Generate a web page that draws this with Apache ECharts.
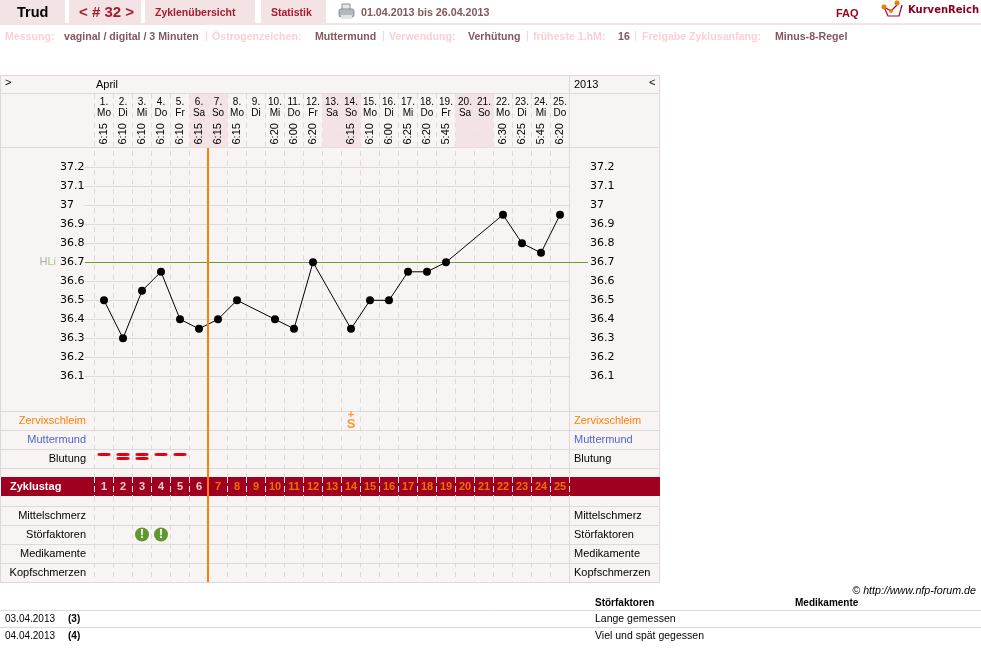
<!DOCTYPE html>
<html>
<head>
<meta charset="utf-8">
<title>Zyklusblatt</title>
<style>html,body{margin:0;padding:0;background:#fff}#chart{width:981px;height:662px}</style>
<script src="https://cdn.jsdelivr.net/npm/echarts@6/dist/echarts.min.js"></script>
</head>
<body>
<div id="chart"></div>
<script>
// Zyklusdaten
const days = [1,2,3,4,5,6,7,8,9,10,11,12,13,14,15,16,17,18,19,20,21,22,23,24,25];
const weekdays = ['Mo','Di','Mi','Do','Fr','Sa','So','Mo','Di','Mi','Do','Fr','Sa','So','Mo','Di','Mi','Do','Fr','Sa','So','Mo','Di','Mi','Do'];
const times = ['6:15','6:10','6:10','6:10','6:10','6:15','6:15','6:15','','6:20','6:00','6:20','','6:15','6:10','6:00','6:25','6:20','5:45','','','6:30','6:25','5:45','6:20'];
const temps = [36.5,36.3,36.55,36.65,36.4,36.35,36.4,36.5,null,36.4,36.35,36.7,null,36.35,36.5,36.5,36.65,36.65,36.7,null,null,36.95,36.8,36.75,36.95];
const coverLine = 36.7;
const ovulationAfterDay = 6;
const upperRows = ['Zervixschleim','Muttermund','Blutung'];
const lowerRows = ['Mittelschmerz','Störfaktoren','Medikamente','Kopfschmerzen'];
const bleeding = [1,2,2,1,1];
const mucusDay = 14;
const disturbanceDays = [3,4];
const metaPairs = [
  ['Messung:', 5, 'vaginal / digital / 3 Minuten', 64],
  ['Östrogenzeichen:', 212, 'Muttermund', 315],
  ['Verwendung:', 389, 'Verhütung', 468],
  ['früheste 1.hM:', 533, '16', 618],
  ['Freigabe Zyklusanfang:', 642, 'Minus-8-Regel', 775]
];
const metaSeparators = [205, 382, 526, 634];
const notes = [
  ['03.04.2013', '(3)', 'Lange gemessen'],
  ['04.04.2013', '(4)', 'Viel und spät gegessen']
];

// Farben und Maße des Blattes
const FONT = '"Liberation Sans", Arial, sans-serif';
const LINE = '#dcd9d9', PANEL = '#f9f4f4', SHADE = '#f3e3e5', WINE = '#a00020', ORANGE = '#ff8000';
const COL_LEFT = 94.5, COL_WIDTH = 475;
const dayIdx = d => d - 1;

function text(str, x, y, font, fill, align) {
  return { type: 'text', z: -1, silent: true,
    style: { text: str, x, y, font: font + ' ' + FONT, fill, align: align || 'left', verticalAlign: 'middle' } };
}
function rect(x, y, w, h, fill) {
  return { type: 'rect', z: -2, silent: true, shape: { x, y, width: w, height: h }, style: { fill } };
}
function hLine(y, x1, x2, color) {
  return { type: 'line', z: -1, silent: true, shape: { x1, y1: y, x2, y2: y }, style: { stroke: color || LINE, lineWidth: 1 } };
}
function vLine(x, y1, y2) {
  return { type: 'line', z: -1, silent: true, shape: { x1: x, y1, x2: x, y2 }, style: { stroke: LINE, lineWidth: 1 } };
}

const graphics = [
  // Kopfzeile
  rect(0, 0, 65, 23, SHADE), rect(69, 0, 72, 23, SHADE), rect(145, 0, 110, 23, SHADE), rect(261, 0, 65, 23, SHADE),
  rect(0, 23, 981, 2, SHADE),
  text('Trud', 17, 13, 'bold 14.5px', '#000'),
  text('< # 32 >', 79, 13, 'bold 15px', '#a51c30'),
  text('Zyklenübersicht', 155, 13, 'bold 10.5px', '#a51c30'),
  text('Statistik', 271, 13, 'bold 10.5px', '#a51c30'),
  text('01.04.2013 bis 26.04.2013', 361, 13, 'bold 10.7px', '#83585c'),
  text('FAQ', 836, 14, 'bold 11px', '#a00020'),
  text('KurvenReich', 908, 10, 'bold 10px "DejaVu Sans",', '#8b0020'),
  // Druckersymbol
  { type: 'rect', z: -1, shape: { x: 342, y: 4, width: 8, height: 6 }, style: { fill: '#e8e8e8', stroke: '#8a9096' } },
  { type: 'rect', z: -1, shape: { x: 339, y: 9, width: 15, height: 8, r: 2 }, style: { fill: '#b4b9be', stroke: '#8a9096' } },
  { type: 'rect', z: -1, shape: { x: 341, y: 15, width: 11, height: 4 }, style: { fill: '#e2e4e6' } },
  // Logo
  { type: 'polyline', z: -1, shape: { points: [[884, 7], [888, 16], [899, 16], [902, 5]] }, style: { stroke: '#a00040', lineWidth: 1.2, fill: 'none' } },
  { type: 'polyline', z: -1, shape: { points: [[884, 7], [891, 11], [899, 3]] }, style: { stroke: '#a00040', lineWidth: 1.2, fill: 'none' } },
  { type: 'circle', z: -1, shape: { cx: 884, cy: 7, r: 2.5 }, style: { fill: '#f08000' } },
  { type: 'circle', z: -1, shape: { cx: 891, cy: 11, r: 2 }, style: { fill: '#f08000' } },
  { type: 'circle', z: -1, shape: { cx: 897, cy: 3, r: 2.5 }, style: { fill: '#f08000' } },
  // Tafel
  rect(1, 75, 659, 508, PANEL),
  rect(1, 477, 659, 19, WINE),
  text('>', 5, 83, '11px', '#000'),
  text('April', 96, 85, '11px', '#000'),
  text('2013', 574, 85, '11px', '#000'),
  text('<', 649, 83, '11px', '#000'),
  // Fuß
  text('© http://www.nfp-forum.de', 976, 591, 'italic 10.7px', '#000', 'right'),
  text('Störfaktoren', 595, 603, 'bold 10px', '#000'),
  text('Medikamente', 795, 603, 'bold 10px', '#000'),
  hLine(610.5, 0, 981), hLine(627.5, 0, 981)
];
[75.5, 93.5, 147.5, 411.5, 430.5, 449.5, 468.5, 506.5, 525.5, 544.5, 563.5, 582.5].forEach(y => graphics.push(hLine(y, 0, 660)));
[0.5, 569.5, 659.5].forEach(x => { graphics.push(vLine(x, 75, 477), vLine(x, 496, 583)); });
metaPairs.forEach(([label, lx, value, vx]) => {
  graphics.push(text(label, lx, 37, 'bold 10.6px', '#fbd0d0'), text(value, vx, 37, 'bold 10.6px', '#83585c'));
});
metaSeparators.forEach(x => graphics.push(text('|', x, 36, '11px', '#fbd0d0')));
notes.forEach(([date, idx, note], i) => {
  const y = 619 + i * 17;
  graphics.push(text(date, 5, y, '10px', '#000'), text(idx, 68, y, 'bold 10px', '#000'), text(note, 595, y, '10.5px', '#000'));
});

// Zeilen und Spalten teilen sich dieselbe Spaltenbreite
const grid = (top, height, left) => ({ left: left === undefined ? COL_LEFT : left, width: COL_WIDTH, top, height, containLabel: false });
const hiddenY = gridIndex => ({ gridIndex, type: 'value', min: 0, max: 1, show: false });
const dashed = { show: true, interval: 0, lineStyle: { color: LINE, type: [5, 4.5], width: 1 } };
const plainX = (gridIndex, extra) => Object.assign({
  gridIndex, type: 'category', data: days, boundaryGap: true,
  axisLine: { show: false }, axisTick: { show: false }, axisLabel: { show: false }, splitLine: { show: false }
}, extra || {});

const rowAxes = (gridIndex, rows, colorOf) => {
  const labelStyle = (margin, align) => ({
    show: true, interval: 0, margin, align, fontFamily: FONT, fontSize: 11,
    color: (v) => colorOf(v)
  });
  const base = { gridIndex, type: 'category', data: rows, inverse: true,
    axisLine: { show: false }, axisTick: { show: false }, splitLine: { show: false } };
  return [
    Object.assign({}, base, { position: 'left', axisLabel: labelStyle(8.5, 'right') }),
    Object.assign({}, base, { position: 'right', axisLabel: labelStyle(4.5, 'left') })
  ];
};
const rowColor = v => v === 'Zervixschleim' ? ORANGE : v === 'Muttermund' ? '#4a66cc' : '#000';

const option = {
  animation: false,
  backgroundColor: '#fff',
  graphic: { elements: graphics },
  grid: [
    grid(167.3, 209),   // 0 Temperatur
    grid(94, 53.5),     // 1 Tagesköpfe
    grid(411, 57),      // 2 obere Zeilen
    grid(477, 19),      // 3 Zyklustag
    grid(506, 76),      // 4 untere Zeilen
    grid(94, 383),      // 5 Spaltenraster oben
    grid(496, 86),      // 6 Spaltenraster unten
    grid(148, 434, 94)  // 7 Überlagerung
  ],
  xAxis: [
    plainX(0),
    plainX(1, { position: 'top', z: 3, axisLabel: {
      show: true, inside: true, interval: 0, margin: 3, fontFamily: FONT, fontSize: 10, lineHeight: 10.5, color: '#000',
      verticalAlign: 'top', formatter: (v, i) => v + '.\n' + weekdays[i] } }),
    plainX(1, { position: 'bottom', z: 3, data: times, axisLabel: {
      show: true, inside: true, interval: 0, margin: 3, rotate: 90, fontFamily: FONT, fontSize: 11, color: '#000' } }),
    plainX(2),
    plainX(3, { splitLine: { show: true, interval: 0, lineStyle: { color: '#f4e6e6', type: [6, 3], width: 1 } } }),
    plainX(4),
    plainX(5, { splitLine: dashed }),
    plainX(6, { splitLine: dashed }),
    { gridIndex: 7, type: 'value', min: 0, max: days.length, show: false }
  ],
  yAxis: [
    { gridIndex: 0, type: 'value', min: 36.1, max: 37.2, interval: 0.1, position: 'left',
      axisLine: { show: false },
      axisTick: { show: true, length: 10, lineStyle: { color: LINE } },
      axisLabel: { margin: 34.5, align: 'left', fontFamily: '"DejaVu Sans"', fontSize: 11, color: '#000', showMinLabel: true, showMaxLabel: true },
      splitLine: { show: true, lineStyle: { color: LINE, width: 1 } } },
    { gridIndex: 0, type: 'value', min: 36.1, max: 37.2, interval: 0.1, position: 'right',
      axisLine: { show: false }, axisTick: { show: false }, splitLine: { show: false },
      axisLabel: { margin: 20.5, fontFamily: '"DejaVu Sans"', fontSize: 11, color: '#000' } },
    hiddenY(1),
    ...rowAxes(2, upperRows, rowColor),
    { gridIndex: 3, type: 'category', data: ['Zyklustag'], position: 'left',
      axisLine: { show: false }, axisTick: { show: false },
      axisLabel: { margin: 84.5, align: 'left', fontFamily: FONT, fontSize: 11, fontWeight: 'bold', color: '#fff' } },
    ...rowAxes(4, lowerRows, rowColor),
    hiddenY(5),
    hiddenY(6),
    hiddenY(7)
  ],
  series: [
    // Wochenenden in den Tagesköpfen
    { type: 'bar', xAxisIndex: 1, yAxisIndex: 2, barWidth: '100%', silent: true, z: 1,
      itemStyle: { color: SHADE },
      data: weekdays.map(w => (w === 'Sa' || w === 'So') ? 1 : null) },
    // Temperaturkurve mit Hilfslinie
    { type: 'line', name: 'Temperatur', xAxisIndex: 0, yAxisIndex: 0, data: temps, connectNulls: true, clip: false,
      symbol: 'circle', symbolSize: 8, showAllSymbol: true, z: 4,
      lineStyle: { color: '#000', width: 1 }, itemStyle: { color: '#000' },
      markLine: { silent: true, symbol: 'none', animation: false, z: 3,
        lineStyle: { color: '#6a9c2e', width: 1, type: 'solid' },
        label: { show: true, position: 'start', distance: 29, formatter: '{h|H}{l|Li}',
          rich: { h: { color: '#a9b3a4', fontSize: 11, fontFamily: FONT }, l: { color: '#a5c58a', fontSize: 11, fontFamily: FONT } } },
        data: [[{ x: 85, yAxis: coverLine }, { x: 588, yAxis: coverLine }]] } },
    // Zervixschleim
    { type: 'scatter', xAxisIndex: 3, yAxisIndex: 3, symbolSize: 1, itemStyle: { color: 'transparent' }, silent: true, z: 5,
      label: { show: true, position: 'inside', formatter: '{p|+}\n{s|S}',
        rich: { p: { color: ORANGE, fontFamily: FONT, fontWeight: 'bold', fontSize: 11, lineHeight: 7, align: 'center' },
                s: { color: ORANGE, fontFamily: FONT, fontWeight: 'bold', fontSize: 13, lineHeight: 11, align: 'center' } } },
      data: [[dayIdx(mucusDay), 'Zervixschleim']] },
    // Blutung: erster und zweiter Strich
    { type: 'scatter', xAxisIndex: 3, yAxisIndex: 3, symbol: 'roundRect', symbolSize: [13, 3], symbolOffset: [0, -4], silent: true, z: 5,
      itemStyle: { color: '#e00010', opacity: 1 },
      data: bleeding.map((v, i) => v >= 1 ? [i, 'Blutung'] : null).filter(Boolean) },
    { type: 'scatter', xAxisIndex: 3, yAxisIndex: 3, symbol: 'roundRect', symbolSize: [13, 3], symbolOffset: [0, 0], silent: true, z: 5,
      itemStyle: { color: '#e00010', opacity: 1 },
      data: bleeding.map((v, i) => v >= 2 ? [i, 'Blutung'] : null).filter(Boolean) },
    // Zyklustag-Nummern
    { type: 'scatter', xAxisIndex: 4, yAxisIndex: 5, symbolSize: 1, itemStyle: { color: 'transparent' }, silent: true, z: 5,
      data: days.map((d, i) => ({ value: [i, 'Zyklustag'],
        label: { show: true, position: 'inside', formatter: String(d), fontFamily: FONT, fontSize: 11, fontWeight: 'bold',
          color: d <= ovulationAfterDay ? '#fff' : '#ff8c00' } })) },
    // Störfaktoren
    { type: 'scatter', xAxisIndex: 5, yAxisIndex: 6, symbol: 'circle', symbolSize: 14, silent: true, z: 5,
      itemStyle: { color: '#62962f', opacity: 1 },
      label: { show: true, position: 'inside', formatter: '!', color: '#fff', fontFamily: FONT, fontWeight: 'bold', fontSize: 12 },
      data: disturbanceDays.map(d => [dayIdx(d), 'Störfaktoren']) },
    // Grenze zwischen den Zyklustagen
    { type: 'line', xAxisIndex: 8, yAxisIndex: 10, symbol: 'none', silent: true, z: 6,
      lineStyle: { color: ORANGE, width: 2 },
      data: [[ovulationAfterDay, 0], [ovulationAfterDay, 1]] }
  ]
};

const chart = echarts.init(document.getElementById('chart'), null, { renderer: 'canvas' });
chart.setOption(option);
</script>
</body>
</html>
